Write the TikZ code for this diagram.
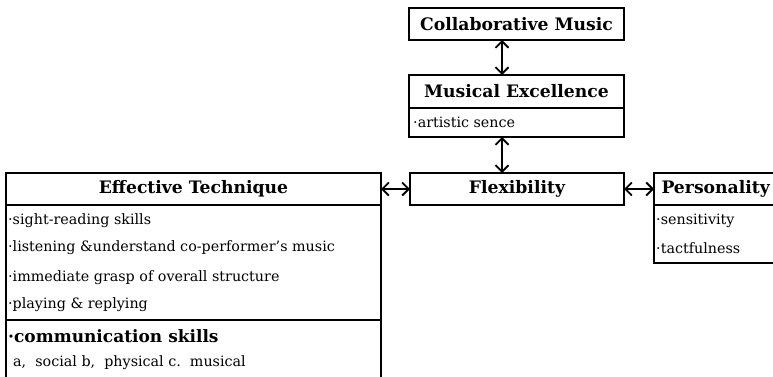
\documentclass[tikz,border=0pt]{standalone}
\usepackage{fontspec}
\setmainfont{DejaVu Serif}
\usetikzlibrary{arrows.meta,calc}
\tikzset{
  titlefont/.style={font=\bfseries\fontsize{17.2}{20}\selectfont},
  bodyfont/.style={font=\fontsize{14.3}{17}\selectfont},
  cell/.style={draw, line width=1pt, inner sep=0pt, anchor=north west},
  titlecell/.style={cell, titlefont},
  outer/.style={line width=2.6pt},
  item/.style={bodyfont, anchor=west, inner sep=0pt},
  barb/.tip={Straight Barb[length=6.5pt,width=13pt,line width=1.8pt]},
  arr/.style={line width=2pt, barb-barb}
}
\begin{document}
\begin{tikzpicture}[x=1pt,y=-1pt]
\useasboundingbox (0,0) rectangle (773,376);
% Collaborative Music
\node[titlecell, minimum width=214pt, minimum height=31pt] (cm) at (409,8) {Collaborative Music};
\draw[outer] (cm.north west) rectangle (cm.south east);
% Musical Excellence
\node[titlecell, minimum width=214pt, minimum height=32pt] (me) at (409,75) {Musical Excellence};
\node[cell, minimum width=214pt, minimum height=28pt] (meb) at (me.south west) {};
\draw[outer] (me.north west) rectangle (meb.south east);
\node[item] (me1) at (413,122) {·artistic sence};
% Flexibility
\node[titlecell, minimum width=213pt, minimum height=31pt] (fx) at (410,173) {Flexibility};
\draw[outer] (fx.north west) rectangle (fx.south east);
% Effective Technique
\node[titlecell, minimum width=374pt, minimum height=31pt] (et) at (6,173) {Effective Technique};
\node[cell, minimum width=374pt, minimum height=114pt] (etb) at (et.south west) {};
\node[cell, minimum width=374pt, minimum height=57pt] (etc) at (etb.south west) {};
\draw[outer] (et.north west) rectangle (etc.south east);
\node[item] (e1) at (8,221) {·sight-reading skills};
\node[item] (e2) at (8,248) {·listening \&understand co-performer's music};
\node[item] (e3) at (8,278) {·immediate grasp of overall structure};
\node[item] (e4) at (8,305) {·playing \& replying};
\node[item, font=\bfseries\fontsize{17}{20}\selectfont] (e5) at (8,336) {·communication skills};
\node[item] (e6) at (13,363) {a,\ \ social b,\ \ physical c.\ \ musical};
% Personality
\node[cell, minimum width=125pt, minimum height=31pt] (ps) at (654,173) {};
\node[titlecell, draw=none, anchor=west] (pst) at (661,188.5) {Personality};
\node[cell, minimum width=125pt, minimum height=57pt] (psb) at (ps.south west) {};
\draw[outer] (ps.north west) rectangle (psb.south east);
\node[item] (p1) at (656,221) {·sensitivity};
\node[item] (p2) at (656,248) {·tactfulness};
% connectors
\coordinate (ax) at (502,0);
\coordinate (ay) at (0,189);
\draw[arr] (cm.south -| ax) -- (me.north -| ax);
\draw[arr] (meb.south -| ax) -- (fx.north -| ax);
\draw[arr] (et.east |- ay) -- (fx.west |- ay);
\draw[arr] (fx.east |- ay) -- (ps.west |- ay);
\end{tikzpicture}
\end{document}
